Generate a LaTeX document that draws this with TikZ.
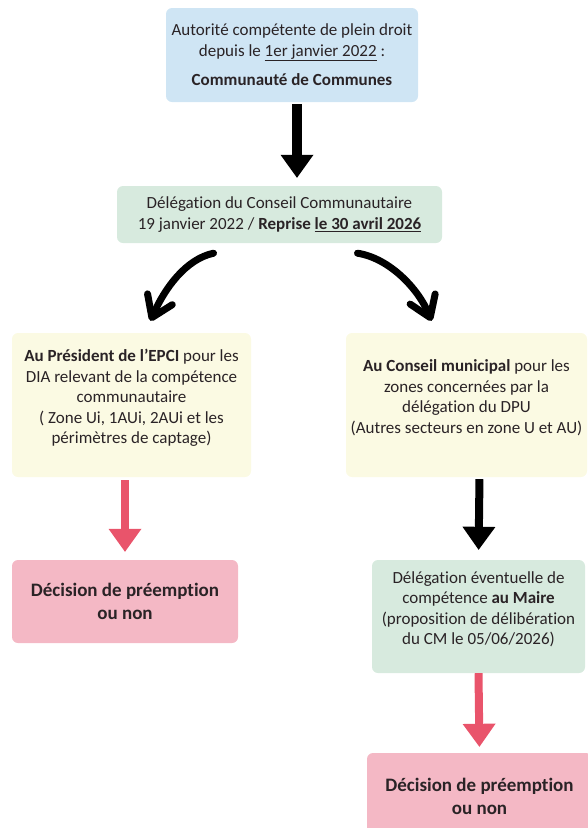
\documentclass[tikz,border=0pt]{standalone}
\usepackage{fontspec}
\setmainfont{Carlito}[RawFeature={-liga}]
\usetikzlibrary{arrows.meta}

\definecolor{bluefill}{HTML}{CFE5F4}
\definecolor{greenfill}{HTML}{D7EADE}
\definecolor{yellowfill}{HTML}{FBFAE3}
\definecolor{pinkfill}{HTML}{F4B8C5}
\definecolor{redarrow}{HTML}{E9546B}
\definecolor{textdark}{HTML}{2A2326}

\tikzset{
		flowbox/.style={
			rounded corners=6pt, inner sep=0pt, align=center,
			text=textdark, font=\fontsize{17}{20.5}\selectfont
		},
		bluebox/.style={flowbox, fill=bluefill},
		greenbox/.style={flowbox, fill=greenfill},
		yellowbox/.style={flowbox, fill=yellowfill},
		pinkbox/.style={flowbox, fill=pinkfill, font=\fontsize{19}{23}\selectfont\bfseries},
		blockarrow/.style={line width=8pt, -{Triangle[width=33pt,length=23pt,line width=0pt]}},
		curvearrow/.style={line width=7pt, line cap=round, -{Straight Barb[length=20pt,width=27pt,round]}}
	}

\begin{document}
\begin{tikzpicture}[x=1pt, y=-1pt]
				\useasboundingbox (0,0) rectangle (587,828);
				% boxes
				\node[bluebox, minimum width=252pt, minimum height=94pt] (autorite) at (292,55)
					{Autorité compétente de plein droit\\
					depuis le \underline{1er janvier 2022} :\\[9pt]
					\textbf{Communauté de Communes}};
				\node[greenbox, minimum width=325pt, minimum height=57pt] (deleg) at (279.5,214.5)
					{Délégation du Conseil Communautaire\\
					19 janvier 2022 / \textbf{Reprise \underline{le 30 avril 2026}}};
				\node[yellowbox, minimum width=239pt, minimum height=144pt] (president) at (131.5,405)
					{\textbf{Au Président de l’EPCI} pour les\\
					DIA relevant de la compétence\\
					communautaire\\
					( Zone Ui, 1AUi, 2AUi et les\\
					périmètres de captage)\\[-4pt]};
				\node[yellowbox, minimum width=241pt, minimum height=144pt] (conseil) at (466.5,405)
					{\textbf{Au Conseil municipal} pour les\\
					zones concernées par la\\
					délégation du DPU\\
					(Autres secteurs en zone U et AU)\\[-4pt]};
				\node[pinkbox, minimum width=226pt, minimum height=83pt] (decision1) at (125,601.5)
					{Décision de préemption\\ou non};
				\node[greenbox, minimum width=213pt, minimum height=113pt] (maire) at (478.5,616.5)
					{Délégation éventuelle de\\
					compétence \textbf{au Maire}\\
					(proposition de délibération\\
					du CM le 05/06/2026)\\[-4pt]};
				\node[pinkbox, minimum width=225pt, minimum height=86pt] (decision2) at (479.5,796)
					{Décision de préemption\\ou non};
				% arrows
				\draw[blockarrow, line width=10pt, shorten <=2pt, shorten >=8pt]
					([xshift=5pt]autorite.south) -- ([xshift=5pt]autorite.south |- deleg.north);
				\draw[curvearrow] ([xshift=-66pt,yshift=-10pt]deleg.south)
					.. controls +(-28,6) and +(14,-32) .. ([xshift=19pt,yshift=12pt]president.north);
				\draw[curvearrow] ([xshift=78pt,yshift=-10pt]deleg.south)
					.. controls +(32,5) and +(-13,-32) .. ([xshift=-35pt,yshift=12pt]conseil.north);
				\draw[blockarrow, redarrow, shorten <=3pt, shorten >=8pt]
					(decision1.north |- president.south) -- (decision1.north);
				\draw[blockarrow, shorten <=2pt, shorten >=10pt]
					([xshift=13pt]conseil.south) -- (maire.north);
				\draw[blockarrow, redarrow, shorten <=0pt, shorten >=6pt]
					(maire.south) -- (decision2.north);
			\end{tikzpicture}
\end{document}
